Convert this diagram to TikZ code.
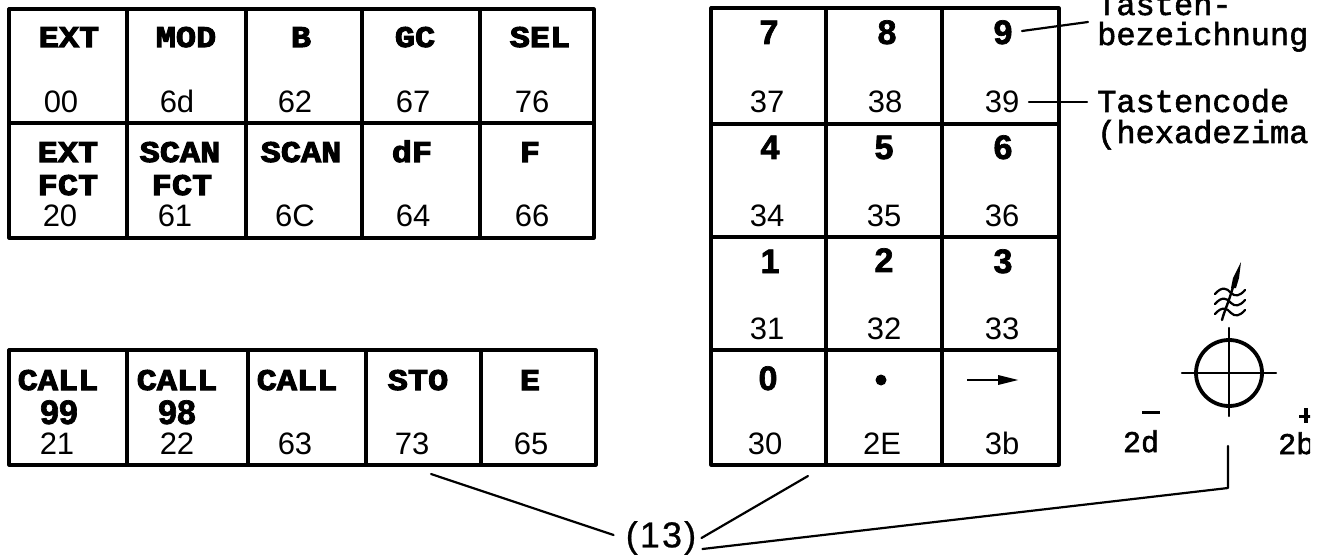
\documentclass[tikz,border=0pt]{standalone}
\usepackage{fontspec}
\setmainfont{Liberation Sans}
\newfontfamily\slabfont[FakeBold=3.4,FakeStretch=1.12]{Liberation Mono Bold}
\newfontfamily\typefont[FakeBold=1.8]{Liberation Mono}
\newfontfamily\keyfont[FakeBold=2]{Liberation Sans Bold}
\newfontfamily\codefont{Liberation Sans}
\newfontfamily\reffont[LetterSpace=6,FakeBold=0.6]{Liberation Sans}
\tikzset{
  x=1pt,y=-1pt,
  frame/.style={line width=3.2pt,line cap=round,line join=round},
  leader/.style={line width=2.2pt,line cap=round,line join=round},
  labeltext/.style={anchor=base,inner sep=0pt,font=\fontsize{30}{30}\selectfont\slabfont},
  numtext/.style={anchor=base,inner sep=0pt,font=\fontsize{34}{34}\selectfont\keyfont},
  codetext/.style={anchor=base,inner sep=0pt,font=\fontsize{31}{31}\selectfont\codefont},
  notetext/.style={anchor=base west,inner sep=0pt,font=\fontsize{32}{32}\selectfont\typefont},
}
\begin{document}
\begin{tikzpicture}
\useasboundingbox (0,0) rectangle (1328,556);
% upper table
\draw[frame] (9,9) rectangle (594,238);
\draw[frame] (9,123) -- (594,123);
\foreach \c in {127,246,362,480} \draw[frame] (\c,9) -- (\c,238);
% lower table
\draw[frame] (9,350) rectangle (596,465);
\foreach \c in {127,248,366,481} \draw[frame] (\c,350) -- (\c,465);
% keypad
\draw[frame] (711,8) rectangle (1059,465);
\foreach \r in {124,237,350} \draw[frame] (711,\r) -- (1059,\r);
\foreach \c in {826,942} \draw[frame] (\c,8) -- (\c,465);
% upper table text
\node[labeltext] (tExt) at (69,47) {EXT};
\node[labeltext] (tMod) at (186,47) {MOD};
\node[labeltext] (tB) at (301,47) {B};
\node[labeltext] (tGc) at (415,47) {GC};
\node[labeltext] (tSel) at (540,47) {SEL};
\node[codetext] (c00) at (61,113) {00};
\node[codetext] (c6d) at (177,113) {6d};
\node[codetext] (c62) at (295,113) {62};
\node[codetext] (c67) at (413,113) {67};
\node[codetext] (c76) at (532,113) {76};
\node[labeltext] (tExtb) at (68,162) {EXT};
\node[labeltext] (tFcta) at (68,195) {FCT};
\node[labeltext] (tScana) at (180,162) {SCAN};
\node[labeltext] (tFctb) at (182,195) {FCT};
\node[labeltext] (tScanb) at (301,162) {SCAN};
\node[labeltext] (tDf) at (412,162) {dF};
\node[labeltext] (tF) at (530,162) {F};
\node[codetext] (c20) at (60,226) {20};
\node[codetext] (c61) at (175,226) {61};
\node[codetext] (c6c) at (295,226) {6C};
\node[codetext] (c64) at (413,226) {64};
\node[codetext] (c66) at (532,226) {66};
% lower table text
\node[labeltext] (tCalla) at (58,390) {CALL};
\node[labeltext] (tCallb) at (177,390) {CALL};
\node[labeltext] (tCallc) at (297,390) {CALL};
\node[labeltext] (tSto) at (418,390) {STO};
\node[labeltext] (tE) at (530,390) {E};
\node[numtext] (n99) at (59,424) {99};
\node[numtext] (n98) at (177,424) {98};
\node[codetext] (c21) at (57,454) {21};
\node[codetext] (c22) at (177,454) {22};
\node[codetext] (c63) at (295,454) {63};
\node[codetext] (c73) at (412,454) {73};
\node[codetext] (c65) at (531,454) {65};
% keypad text
\node[numtext] (k7) at (769,44) {7};
\node[numtext] (k8) at (887,44) {8};
\node[numtext] (k9) at (1003,44) {9};
\node[numtext] (k4) at (770,159) {4};
\node[numtext] (k5) at (884,159) {5};
\node[numtext] (k6) at (1003,159) {6};
\node[numtext] (k1) at (770,273) {1};
\node[numtext] (k2) at (884,272) {2};
\node[numtext] (k3) at (1003,273) {3};
\node[numtext] (k0) at (768,390) {0};
\node[codetext] (c37) at (767,113) {37};
\node[codetext] (c38) at (885,113) {38};
\node[codetext] (c39) at (1002,113) {39};
\node[codetext] (c34) at (767,227) {34};
\node[codetext] (c35) at (884,227) {35};
\node[codetext] (c36) at (1002,227) {36};
\node[codetext] (c31) at (767,339) {31};
\node[codetext] (c32) at (884,339) {32};
\node[codetext] (c33) at (1002,339) {33};
\node[codetext] (c30) at (765,454) {30};
\node[codetext] (c2E) at (882,454) {2E};
\node[codetext] (c3b) at (1002,454) {3b};
\fill (881,380) circle (5.5);
\draw[line width=2.2pt] (967,380) -- (1000,380);
\fill (998,375) -- (1018,380) -- (998,385) -- cycle;
% notes
\node[notetext] (nA) at (1097,15) {Tasten-};
\node[notetext] (nB) at (1097,45) {bezeichnung};
\node[notetext] (nC) at (1097,112) {Tastencode};
\node[notetext] (nD) at (1097,143) {(hexadezima};
% polarity marks, clipped at the edge of the scan
\begin{scope}
\clip (0,0) rectangle (1310,556);
\node[anchor=base west,inner sep=0pt,font=\fontsize{30}{30}\selectfont\typefont] (l2b) at (1278,454) {2b};
\fill (1299,415) rectangle (1311,418);
\fill (1304,408) rectangle (1308,423);
\end{scope}
\node[anchor=base,inner sep=0pt,font=\fontsize{30}{30}\selectfont\typefont] (l2d) at (1141,452) {2d};
\fill (1142,410.5) rectangle (1160,413.5);
% leaders
\coordinate (aA) at (1022,31);
\coordinate (aB) at (1088,22);
\coordinate (aC) at (1029,102);
\coordinate (aD) at (1087,102);
\draw[leader] (aA) -- (aB);
\draw[leader] (aC) -- (aD);
% symbol
\coordinate (sym) at (1229,373);
\draw[line width=3.8pt] (sym) circle (33);
\coordinate (symL) at (1182,373);
\coordinate (symR) at (1276,373);
\coordinate (symT) at (1229,328);
\coordinate (symB) at (1229,416);
\draw[leader] (symL) -- (symR);
\draw[leader] (symT) -- (symB);
\foreach \w in {292,302,312}
  \draw[line width=2.2pt,line cap=round] (1215,\w+2) .. controls (1222,\w-6) and (1227,\w-4) .. (1231,\w+1) .. controls (1235,\w+5) and (1240,\w+4) .. (1245,\w-2);
\draw[line width=2.4pt,line cap=round] (1222,320) .. controls (1224,312) and (1228,304) .. (1233,287);
\fill (1231,288) -- (1233,278) -- (1241,262) -- (1239,278) -- (1236,288) -- cycle;
% reference number
\node[anchor=center,inner sep=0pt,font=\fontsize{36}{36}\selectfont\reffont] (ref) at (661,538) {(13)};
\coordinate (p1) at (431,474);
\coordinate (p2) at (808,476);
\coordinate (p3a) at (1228,488);
\coordinate (p3b) at (1228,446);
\draw[leader] (ref.west) ++(-12,-3) -- (p1);
\draw[leader] (ref.east) ++(5,0) -- (p2);
\draw[leader] (ref.east) ++(6,11) -- (p3a) -- (p3b);
\end{tikzpicture}
\end{document}
